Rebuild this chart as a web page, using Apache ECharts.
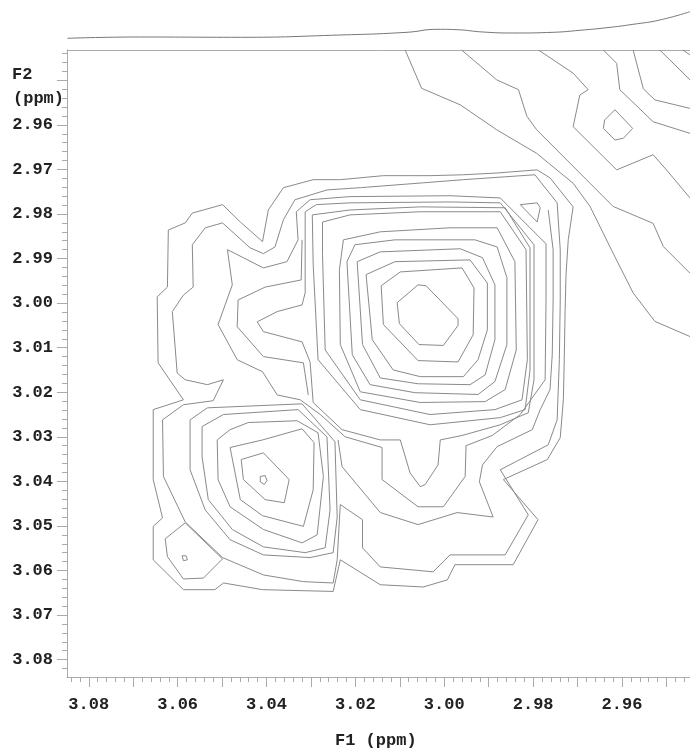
<!DOCTYPE html>
<html>
<head>
<meta charset="utf-8">
<script src="https://cdn.jsdelivr.net/npm/echarts@6.0.0/dist/echarts.min.js"></script>
<style>
html, body { margin: 0; padding: 0; background: #fff; }
#chart { width: 690px; height: 749px; }
</style>
</head>
<body>
<div id="chart"></div>
<script>
// axis ranges (ppm), both axes run "backwards" like an NMR plot
const f1Range = [2.9447, 3.0849];
const f2Range = [2.9432, 3.0839];

// tick labels
const f1MajorTicks = [2.95, 2.96, 2.97, 2.98, 2.99, 3.00, 3.01, 3.02, 3.03, 3.04, 3.05, 3.06, 3.07, 3.08];
const f1LabelTicks = [2.96, 2.98, 3.00, 3.02, 3.04, 3.06, 3.08];
const f2MajorTicks = [2.95, 2.96, 2.97, 2.98, 2.99, 3.00, 3.01, 3.02, 3.03, 3.04, 3.05, 3.06, 3.07, 3.08];
const f2LabelTicks = [2.96, 2.97, 2.98, 2.99, 3.00, 3.01, 3.02, 3.03, 3.04, 3.05, 3.06, 3.07, 3.08];

// 1D projection on top (F1 ppm / relative intensity)
const projF1 = [3.0848, 3.0684, 3.0459, 3.0234, 3.0084, 3.0016, 2.9971, 2.9913, 2.9845, 2.9755, 2.9695, 2.9634, 2.9575, 2.9515, 2.9447];
const projIntensity = [1.7, 3.0, 2.7, 5.0, 7.7, 10.7, 10.3, 8.0, 7.0, 7.7, 9.7, 12.3, 15.7, 20.0, 28.3];

// contour lines, [F1 ppm, F2 ppm]
const contourA = [[3.0362,2.9741],[3.0295,2.9723],[3.0234,2.9723],[3.0137,2.9714],[3.0032,2.9714],[2.9957,2.9712],[2.9881,2.9708],[2.9791,2.9701],[2.9762,2.9719],[2.9710,2.9784],[2.9721,2.9858],[2.9726,2.9936],[2.9728,3.0015],[2.9730,3.0127],[2.9732,3.0217],[2.9739,3.0302],[2.9768,3.0351],[2.9867,3.0396],[2.9789,3.0486],[2.9845,3.0587],[2.9976,3.0587],[2.9993,3.0621],[3.0047,3.0637],[3.0144,3.0632],[3.0234,3.0576],[3.0250,3.0647],[3.0409,3.0643],[3.0497,3.0628],[3.0516,3.0643],[3.0587,3.0643],[3.0655,3.0576],[3.0655,3.0501],[3.0634,3.0482],[3.0655,3.0396],[3.0655,3.0239],[3.0587,3.0217],[3.0644,3.0134],[3.0646,2.9986],[3.0623,2.9964],[3.0621,2.9836],[3.0583,2.9820],[3.0567,2.9798],[3.0499,2.9779],[3.0459,2.9818],[3.0409,2.9862],[3.0396,2.9791],[3.0362,2.9741]];
const contourB = [[3.0567,2.9869],[3.0538,2.9831],[3.0499,2.9820],[3.0437,2.9876],[3.0407,2.9889],[3.0381,2.9874],[3.0362,2.9813],[3.0336,2.9768],[3.0264,2.9746],[3.0189,2.9741],[3.0047,2.9730],[2.9957,2.9723],[2.9796,2.9712],[2.9746,2.9775],[2.9739,2.9880],[2.9739,2.9993],[2.9741,3.0127],[2.9746,3.0262],[2.9766,3.0318],[2.9874,3.0374],[2.9811,3.0475],[2.9863,3.0565],[2.9987,3.0565],[3.0025,3.0603],[3.0144,3.0592],[3.0184,3.0549],[3.0184,3.0486],[3.0234,3.0452],[3.0241,3.0576],[3.0250,3.0628],[3.0317,3.0625],[3.0407,3.0610],[3.0499,3.0571],[3.0583,3.0491],[3.0632,3.0389],[3.0634,3.0262],[3.0587,3.0228],[3.0520,3.0219],[3.0497,3.0172],[3.0533,3.0183],[3.0583,3.0172],[3.0601,3.0157],[3.0612,3.0019],[3.0587,2.9982],[3.0565,2.9964],[3.0567,2.9869]];
const contourC = [[3.0488,2.9880],[3.0407,2.9921],[3.0354,2.9907],[3.0329,2.9858],[3.0333,2.9795],[3.0302,2.9768],[3.0212,2.9761],[2.9987,2.9759],[2.9874,2.9764],[2.9771,2.9867],[2.9771,2.9993],[2.9773,3.0172],[2.9829,3.0250],[2.9892,3.0297],[2.9951,3.0320],[2.9953,3.0389],[3.0002,3.0457],[3.0059,3.0457],[3.0140,3.0396],[3.0140,3.0324],[3.0223,3.0300],[3.0279,3.0250],[3.0324,3.0217],[3.0376,3.0206],[3.0409,3.0154],[3.0466,3.0127],[3.0509,3.0048],[3.0477,2.9959],[3.0488,2.9880]];
const contourD = [[3.0320,2.9858],[3.0322,2.9948],[3.0403,2.9964],[3.0464,2.9993],[3.0466,3.0053],[3.0407,3.0120],[3.0317,3.0134],[3.0306,3.0206]];
const contourK = [[2.9766,2.9791],[2.9755,2.9880],[2.9755,2.9993],[2.9757,3.0116],[2.9762,3.0194],[2.9784,3.0239],[2.9802,3.0284],[2.9881,3.0322],[2.9914,3.0363],[2.9921,3.0401],[2.9890,3.0480],[2.9971,3.0470],[3.0059,3.0497],[3.0144,3.0470],[3.0230,3.0367],[3.0239,3.0307]];
const mainPeak1 = [[3.0059,2.9959],[3.0041,2.9961],[2.9969,3.0035],[2.9969,3.0050],[3.0002,3.0095],[3.0057,3.0093],[3.0101,3.0046],[3.0106,2.9999],[3.0059,2.9959]];
const mainPeak2 = [[3.0142,2.9961],[3.0099,2.9930],[2.9960,2.9921],[2.9933,2.9966],[2.9935,3.0071],[2.9969,3.0132],[3.0059,3.0129],[3.0137,3.0048],[3.0142,2.9961]];
const mainPeak3 = [[3.0176,2.9936],[3.0111,2.9907],[2.9942,2.9903],[2.9903,2.9955],[2.9903,3.0060],[2.9924,3.0127],[2.9957,3.0165],[3.0054,3.0165],[3.0115,3.0150],[3.0162,3.0082],[3.0176,2.9936]];
const mainPeak4 = [[3.0196,2.9907],[3.0144,2.9885],[2.9964,2.9878],[2.9914,2.9898],[2.9886,2.9959],[2.9886,3.0082],[2.9908,3.0161],[2.9942,3.0183],[3.0059,3.0181],[3.0144,3.0168],[3.0184,3.0093],[3.0196,2.9907]];
const mainPeak5 = [[3.0219,2.9907],[3.0201,2.9869],[3.0111,2.9858],[2.9931,2.9858],[2.9881,2.9874],[2.9859,2.9943],[2.9859,3.0093],[2.9886,3.0176],[2.9924,3.0205],[3.0066,3.0201],[3.0167,3.0183],[3.0207,3.0116],[3.0219,2.9907]];
const mainPeak6 = [[3.0236,2.9925],[3.0227,2.9858],[3.0144,2.9840],[2.9987,2.9831],[2.9881,2.9831],[2.9841,2.9907],[2.9838,3.0105],[2.9863,3.0194],[2.9908,3.0221],[3.0054,3.0223],[3.0189,3.0199],[3.0234,3.0093],[3.0236,2.9925]];
const mainPeak7 = [[3.0274,2.9891],[3.0274,2.9818],[3.0212,2.9802],[3.0054,2.9795],[2.9874,2.9795],[2.9816,2.9880],[2.9813,3.0127],[2.9825,3.0217],[2.9886,3.0239],[3.0032,3.0250],[3.0189,3.0217],[3.0268,3.0105],[3.0274,2.9891]];
const mainPeak8 = [[3.0295,2.9914],[3.0297,2.9802],[3.0212,2.9791],[3.0054,2.9784],[2.9863,2.9786],[2.9807,2.9876],[2.9807,3.0150],[2.9818,3.0239],[2.9874,3.0257],[3.0032,3.0273],[3.0189,3.0239],[3.0284,3.0127],[3.0295,2.9914]];
const mainPeak9 = [[3.0313,2.9977],[3.0313,2.9795],[3.0288,2.9779],[3.0212,2.9775],[2.9987,2.9773],[2.9874,2.9775],[2.9798,2.9869],[2.9798,3.0172],[2.9811,3.0246],[2.9874,3.0273],[2.9960,3.0297],[3.0009,3.0307],[3.0014,3.0363],[3.0043,3.0407],[3.0054,3.0412],[3.0077,3.0381],[3.0099,3.0307],[3.0144,3.0307],[3.0230,3.0284],[3.0295,3.0223],[3.0302,3.0132],[3.0320,3.0087],[3.0407,3.0064],[3.0421,3.0042],[3.0376,3.0019],[3.0320,3.0004],[3.0313,2.9977]];
const lowPeak1 = [[3.0414,3.0389],[3.0403,3.0387],[3.0399,3.0398],[3.0405,3.0407],[3.0414,3.0401],[3.0414,3.0389]];
const lowPeak2 = [[3.0457,3.0351],[3.0407,3.0336],[3.0349,3.0396],[3.0360,3.0448],[3.0403,3.0441],[3.0452,3.0396],[3.0457,3.0351]];
const lowPeak3 = [[3.0482,3.0324],[3.0409,3.0307],[3.0320,3.0282],[3.0293,3.0313],[3.0295,3.0419],[3.0317,3.0501],[3.0409,3.0477],[3.0459,3.0441],[3.0482,3.0324]];
const lowPeak4 = [[3.0511,3.0307],[3.0482,3.0284],[3.0441,3.0268],[3.0331,3.0264],[3.0284,3.0291],[3.0272,3.0389],[3.0286,3.0520],[3.0320,3.0538],[3.0407,3.0508],[3.0482,3.0457],[3.0509,3.0396],[3.0511,3.0307]];
const lowPeak5 = [[3.0545,3.0277],[3.0497,3.0250],[3.0329,3.0239],[3.0264,3.0300],[3.0257,3.0464],[3.0268,3.0549],[3.0313,3.0560],[3.0407,3.0547],[3.0477,3.0508],[3.0531,3.0441],[3.0545,3.0345],[3.0545,3.0277]];
const lowPeak6 = [[3.0572,3.0262],[3.0533,3.0235],[3.0320,3.0226],[3.0246,3.0311],[3.0241,3.0480],[3.0250,3.0560],[3.0302,3.0571],[3.0407,3.0565],[3.0482,3.0531],[3.0538,3.0464],[3.0572,3.0374],[3.0572,3.0262]];
const cornerPeak1 = [[3.0583,3.0493],[3.0628,3.0529],[3.0623,3.0569],[3.0587,3.0619],[3.0542,3.0617],[3.0499,3.0574],[3.0583,3.0493]];
const cornerPeak2 = [[3.0590,3.0567],[3.0581,3.0567],[3.0578,3.0576],[3.0587,3.0578],[3.0590,3.0567]];
const triangle = [[2.9829,2.9779],[2.9791,2.9775],[2.9784,2.9786],[2.9791,2.9818],[2.9829,2.9779]];
const ridge1 = [[3.0088,2.9432],[3.0051,2.9518],[2.9964,2.9555],[2.9882,2.9611],[2.9792,2.9664],[2.9710,2.9731],[2.9672,2.9783],[2.9620,2.9888],[2.9575,2.9977],[2.9526,3.0041],[2.9447,3.0075]];
const ridge2 = [[2.9961,2.9432],[2.9882,2.9499],[2.9833,2.9521],[2.9814,2.9581],[2.9792,2.9611],[2.9724,2.9679],[2.9672,2.9731],[2.9620,2.9783],[2.9530,2.9821],[2.9507,2.9873],[2.9447,2.9933]];
const ridge3 = [[2.9788,2.9432],[2.9710,2.9484],[2.9676,2.9521],[2.9695,2.9533],[2.9710,2.9604],[2.9612,2.9701],[2.9530,2.9667],[2.9500,2.9701],[2.9447,2.9764]];
const ridge4 = [[2.9642,2.9432],[2.9612,2.9462],[2.9605,2.9521],[2.9530,2.9593],[2.9447,2.9619]];
const ridge5 = [[2.9575,2.9432],[2.9552,2.9519],[2.9526,2.9544],[2.9447,2.9563]];
const ridge6 = [[2.9515,2.9432],[2.9447,2.9499]];
const ridge7 = [[2.9463,2.9432],[2.9447,2.9443]];
const ridgePeak = [[2.9616,2.9566],[2.9639,2.9589],[2.9642,2.9608],[2.9616,2.9634],[2.9597,2.9630],[2.9576,2.9608],[2.9616,2.9566]];

const contours = [contourA, contourB, contourC, contourD, contourK,
	mainPeak1, mainPeak2, mainPeak3, mainPeak4, mainPeak5, mainPeak6, mainPeak7, mainPeak8, mainPeak9,
	lowPeak1, lowPeak2, lowPeak3, lowPeak4, lowPeak5, lowPeak6, cornerPeak1, cornerPeak2, triangle,
	ridge1, ridge2, ridge3, ridge4, ridge5, ridge6, ridge7, ridgePeak];

function minorTicks(lo, hi, step) {
	let out = [];
	for (let v = Math.ceil(lo / step) * step; v <= hi; v += step) {
		out.push(Math.round(v * 1000) / 1000);
	}
	return out;
}

const chart = echarts.init(document.getElementById('chart'), null, { width: 690, height: 749 });

const labelFont = {
	fontFamily: "'Liberation Mono', 'DejaVu Sans Mono', monospace",
	fontWeight: 'bold',
	fontSize: 17,
	color: '#222'
};
const axisGrey = '#aaaaaa';
const lineGrey = '#8a8a8a';

let series = contours.map(function (pts) {
	return {
		type: 'line',
		xAxisIndex: 0,
		yAxisIndex: 0,
		data: pts,
		symbol: 'none',
		lineStyle: { color: lineGrey, width: 1 },
		silent: true
	};
});
series.push({
	type: 'line',
	xAxisIndex: 3,
	yAxisIndex: 2,
	data: projF1.map(function (x, i) { return [x, projIntensity[i]]; }),
	symbol: 'none',
	smooth: true,
	lineStyle: { color: '#777', width: 1 },
	silent: true
});

const option = {
	backgroundColor: '#fff',
	animation: false,
	grid: [
		{ left: 67, right: 0, top: 50, bottom: 72 },
		{ left: 67, right: 0, top: 0, height: 40 }
	],
	xAxis: [{
		type: 'value', gridIndex: 0, position: 'bottom',
		min: f1Range[0], max: f1Range[1], inverse: true,
		axisLine: { show: true, onZero: false, lineStyle: { color: axisGrey } },
		axisTick: { show: true, length: 10, customValues: f1MajorTicks, lineStyle: { color: axisGrey } },
		axisLabel: Object.assign({ customValues: f1LabelTicks, margin: 19, formatter: function (v) { return v.toFixed(2); } }, labelFont),
		splitLine: { show: false }
	}, {
		type: 'value', gridIndex: 0, position: 'bottom',
		min: f1Range[0], max: f1Range[1], inverse: true,
		axisLine: { show: false },
		axisTick: { show: true, length: 5, customValues: minorTicks(f1Range[0], f1Range[1], 0.002), lineStyle: { color: axisGrey } },
		axisLabel: { show: false },
		splitLine: { show: false }
	}, {
		type: 'value', gridIndex: 0, position: 'top',
		min: f1Range[0], max: f1Range[1], inverse: true,
		axisLine: { show: true, onZero: false, lineStyle: { color: axisGrey } },
		axisTick: { show: false },
		axisLabel: { show: false },
		splitLine: { show: false }
	}, {
		type: 'value', gridIndex: 1,
		min: f1Range[0], max: f1Range[1], inverse: true,
		show: false
	}],
	yAxis: [{
		type: 'value', gridIndex: 0, position: 'left',
		min: f2Range[0], max: f2Range[1], inverse: true,
		axisLine: { show: true, onZero: false, lineStyle: { color: axisGrey } },
		axisTick: { show: true, length: 10, customValues: f2MajorTicks, lineStyle: { color: axisGrey } },
		axisLabel: Object.assign({ customValues: f2LabelTicks, margin: 14, formatter: function (v) { return v.toFixed(2); } }, labelFont),
		splitLine: { show: false }
	}, {
		type: 'value', gridIndex: 0, position: 'left',
		min: f2Range[0], max: f2Range[1], inverse: true,
		axisLine: { show: false },
		axisTick: { show: true, length: 5, customValues: minorTicks(f2Range[0], f2Range[1], 0.002), lineStyle: { color: axisGrey } },
		axisLabel: { show: false },
		splitLine: { show: false }
	}, {
		type: 'value', gridIndex: 1, min: 0, max: 40, show: false
	}],
	graphic: [
		{ type: 'text', left: 12, top: 66, style: { text: 'F2', fill: '#222', font: "bold 17px 'Liberation Mono', monospace" } },
		{ type: 'text', left: 13, top: 90, style: { text: '(ppm)', fill: '#222', font: "bold 17px 'Liberation Mono', monospace" } },
		{ type: 'text', left: 335, top: 732, style: { text: 'F1 (ppm)', fill: '#222', font: "bold 17px 'Liberation Mono', monospace" } }
	],
	series: series
};

chart.setOption(option);
</script>
</body>
</html>
